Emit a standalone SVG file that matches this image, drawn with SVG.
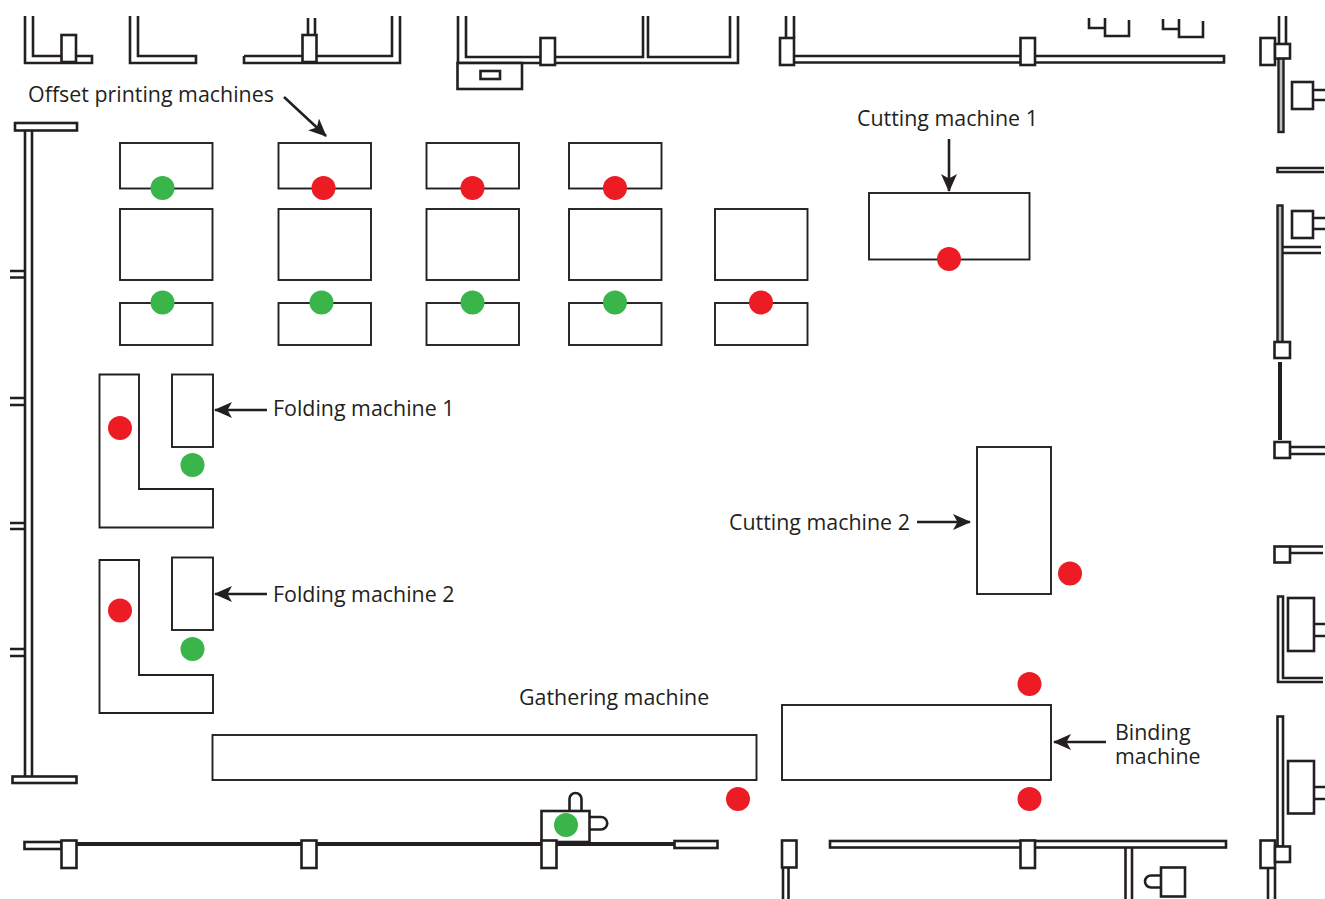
<svg xmlns="http://www.w3.org/2000/svg" width="1325" height="899" viewBox="0 0 1325 899">
<style>
.w{fill:none;stroke:#231f20;stroke-width:2.6}
.b{fill:#fff;stroke:#231f20;stroke-width:2.6}
.g{fill:#bcbec0;stroke:#231f20;stroke-width:2.4}
.t{fill:none;stroke:#231f20;stroke-width:4}
.m{fill:#fff;stroke:#231f20;stroke-width:1.9}
.a{fill:none;stroke:#231f20;stroke-width:2.6}
.r{fill:#ed1c24}
.n{fill:#39b54a}
text{font-family:"Open Sans","Noto Sans","Liberation Sans",sans-serif;font-size:21.4px;fill:#231f20}
</style>
<defs>
<marker id="ah" viewBox="0 0 18 16" refX="17" refY="8" markerWidth="18" markerHeight="16" markerUnits="userSpaceOnUse" orient="auto">
<path d="M0,0L18,8L0,16L4.500,8Z" fill="#231f20"/>
</marker>
</defs>
<g id="building">
<path class="w" d="M25,16V63H92V56H33V16"/>
<path class="w" d="M130,16V63H196V56H138V16"/>
<path class="w" d="M244,56V63H400V16M392,16V56H244M308,18V34M315,18V34"/>
<rect class="b" x="61.500" y="35" width="14.500" height="27"/>
<rect class="b" x="302.500" y="35" width="14" height="27"/>
<path class="w" d="M458,16V63H738V16M730,16V57H648V16M643,16V57H466V16"/>
<rect class="b" x="457.500" y="63" width="64.500" height="26"/>
<rect class="b" x="480.500" y="71" width="19.500" height="8"/>
<rect class="b" x="540.500" y="38" width="14.500" height="27"/>
<path class="w" d="M786,16V38M794,16V38M794,56H1224V62.500H794"/>
<rect class="b" x="780" y="38" width="14" height="27"/>
<rect class="b" x="1020.500" y="38" width="14.500" height="27"/>
<path class="w" d="M1089,18V28H1104.500M1105,18V36H1129V20"/>
<path class="w" d="M1163,19V29H1178.500M1179,19V37H1203V21"/>
<rect class="g" x="1278.500" y="58" width="5" height="74"/>
<path class="w" d="M1279,16V44M1286,16V44"/>
<rect class="b" x="1260.500" y="38" width="14.500" height="27"/>
<rect class="b" x="1275" y="44" width="15" height="14.500"/>
<rect class="b" x="1292" y="82" width="21" height="27"/>
<path class="w" d="M1313,90H1325M1313,100H1325"/>
<path class="w" d="M1324,168H1277.500V172H1324"/>
<rect class="g" x="1277.500" y="205.500" width="5" height="137"/>
<path class="w" d="M1282,247H1321M1282,253H1321"/>
<rect class="b" x="1292" y="211" width="21" height="27"/>
<path class="w" d="M1313,218H1325M1313,229H1325"/>
<rect class="b" x="1274.500" y="342" width="15.500" height="16"/>
<path class="t" d="M1280,362V440"/>
<rect class="b" x="1274.500" y="442" width="15.500" height="16"/>
<path class="w" d="M1290,447H1325M1290,454H1325"/>
<rect class="b" x="1274.500" y="546.500" width="15.500" height="16"/>
<path class="w" d="M1290,546.500H1323M1290,553H1323"/>
<path class="w" d="M1323,682H1278V596.500H1283V678H1323"/>
<rect class="b" x="1288" y="598" width="26" height="53"/>
<path class="w" d="M1314,624H1325M1314,636H1325"/>
<rect class="b" x="1277.500" y="716.500" width="5.500" height="130"/>
<rect class="b" x="1288" y="761" width="26" height="52.500"/>
<path class="w" d="M1314,787H1325M1314,799H1325"/>
<rect class="b" x="1260.500" y="840.500" width="14.500" height="27.500"/>
<rect class="b" x="1275" y="846.500" width="15" height="15.500"/>
<path class="w" d="M1268,868V899M1275,868V899"/>
<rect class="b" x="15" y="123" width="62" height="7.500"/>
<path class="w" d="M25,130V777M32,130V777"/>
<path class="w" d="M10,271H24M10,277.500H24M10,398H24M10,405H24M10,523H24M10,529H24M10,649H24M10,656H24"/>
<rect class="b" x="12.500" y="776.500" width="64" height="6.500"/>
<rect class="b" x="24.500" y="842" width="37" height="7"/>
<path class="t" d="M76,844H674"/>
<rect class="b" x="61.500" y="840.500" width="15" height="27.500"/>
<rect class="b" x="301.500" y="840.500" width="15" height="27.500"/>
<rect class="b" x="674.500" y="841" width="43" height="7"/>
<path class="w" d="M569.500,811V799a6,6 0 0 1 12,0V811"/>
<path class="w" d="M589.500,817H601a6.200,6.200 0 0 1 0,12.500H589.500"/>
<rect class="b" x="541.500" y="811" width="48" height="31"/>
<rect class="b" x="541.500" y="840.500" width="15" height="27.500"/>
<path class="w" d="M783,867V899M788.500,867V899"/>
<rect class="b" x="782" y="840.500" width="14.500" height="27"/>
<rect class="b" x="830" y="841" width="396" height="6.500"/>
<rect class="b" x="1020.500" y="840.500" width="14.500" height="27.500"/>
<path class="w" d="M1125.500,848V899M1132,848V899"/>
<path class="w" d="M1161,875.500H1151a6,6 0 0 0 0,12H1161"/>
<rect class="b" x="1161" y="867.500" width="24" height="29"/>
</g>
<g id="offset-1"><rect class="m" x="120" y="143" width="92.500" height="45.500"/><rect class="m" x="120" y="209" width="92.500" height="71"/><rect class="m" x="120" y="303" width="92.500" height="42"/></g>
<g id="offset-2"><rect class="m" x="278.500" y="143" width="92.500" height="45.500"/><rect class="m" x="278.500" y="209" width="92.500" height="71"/><rect class="m" x="278.500" y="303" width="92.500" height="42"/></g>
<g id="offset-3"><rect class="m" x="426.500" y="143" width="92.500" height="45.500"/><rect class="m" x="426.500" y="209" width="92.500" height="71"/><rect class="m" x="426.500" y="303" width="92.500" height="42"/></g>
<g id="offset-4"><rect class="m" x="569" y="143" width="92.500" height="45.500"/><rect class="m" x="569" y="209" width="92.500" height="71"/><rect class="m" x="569" y="303" width="92.500" height="42"/></g>
<g id="offset-5"><rect class="m" x="715" y="209" width="92.500" height="71"/><rect class="m" x="715" y="303" width="92.500" height="42"/></g>
<g id="cutting-1"><rect class="m" x="869" y="193" width="160.500" height="66.500"/></g>
<g id="folding-1"><path class="m" d="M99.500,374.500H139V489H213V527.500H99.500Z"/><rect class="m" x="172" y="374.500" width="41" height="72.500"/></g>
<g id="folding-2"><path class="m" d="M99.500,560H139V675H213V713H99.500Z"/><rect class="m" x="172" y="557.500" width="41" height="72.500"/></g>
<g id="cutting-2"><rect class="m" x="977" y="447" width="74" height="147"/></g>
<g id="binding"><rect class="m" x="782" y="705" width="269" height="75"/></g>
<g id="gathering"><rect class="m" x="212.500" y="735" width="544" height="45"/></g>
<g id="connectors">
<path class="a" marker-end="url(#ah)" d="M284,97L326,136"/>
<path class="a" marker-end="url(#ah)" d="M949,139V191"/>
<path class="a" marker-end="url(#ah)" d="M267,410H215"/>
<path class="a" marker-end="url(#ah)" d="M267,594H215"/>
<path class="a" marker-end="url(#ah)" d="M917,522H970"/>
<path class="a" marker-end="url(#ah)" d="M1106,742H1054"/>
</g>
<g id="status">
<circle class="n" cx="162.500" cy="188" r="12"/><circle class="r" cx="323.500" cy="188" r="12"/><circle class="r" cx="472.500" cy="188" r="12"/><circle class="r" cx="615" cy="188" r="12"/>
<circle class="n" cx="162.500" cy="302.500" r="12"/><circle class="n" cx="321.500" cy="302.500" r="12"/><circle class="n" cx="472.500" cy="302.500" r="12"/><circle class="n" cx="615" cy="302.500" r="12"/><circle class="r" cx="761" cy="302.500" r="12"/>
<circle class="r" cx="949" cy="259" r="12"/>
<circle class="r" cx="120" cy="428" r="12"/><circle class="n" cx="192.500" cy="465" r="12"/>
<circle class="r" cx="120" cy="610.500" r="12"/><circle class="n" cx="192.500" cy="649" r="12"/>
<circle class="r" cx="1070" cy="573.500" r="12"/>
<circle class="r" cx="1029.500" cy="684" r="12"/><circle class="r" cx="1029.500" cy="799" r="12"/>
<circle class="r" cx="738" cy="799" r="12"/><circle class="n" cx="566" cy="825" r="12"/>
</g>
<g id="labels">
<text x="28" y="102">Offset printing machines</text>
<text x="857" y="126">Cutting machine 1</text>
<text x="273" y="416">Folding machine 1</text>
<text x="273" y="602">Folding machine 2</text>
<text x="729" y="530">Cutting machine 2</text>
<text x="519" y="705">Gathering machine</text>
<text x="1115" y="740">Binding</text>
<text x="1115" y="764">machine</text>
</g>
</svg>
